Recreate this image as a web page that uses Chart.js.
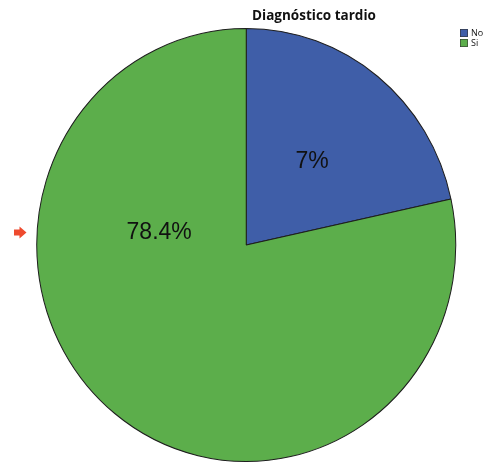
<!DOCTYPE html>
<html>
<head>
<meta charset="utf-8">
<script src="https://cdn.jsdelivr.net/npm/chart.js@4.4.1/dist/chart.umd.min.js"></script>
<style>
  html, body { margin: 0; padding: 0; background: #ffffff; }
  #wrap { width: 492px; height: 463px; }
</style>
</head>
<body>
<div id="wrap"><canvas id="c" width="492" height="463"></canvas></div>
<script>
// Categories and their shares (%)
const categories = ['No', 'Si'];
const shareValues = [21.6, 78.4];
// Text printed inside each slice
const sliceLabels = ['7%', '78.4%'];
const chartTitle = 'Diagnóstico tardio';

const sliceColors = ['#3f5ea8', '#5cae4b'];

// Where each slice label sits: null = middle of the slice,
// otherwise an angle (deg, clockwise from 12 o'clock) and a fraction of the radius
const labelPlacement = [null, { angle: 278.2, frac: 0.42 }];

// The pie is drawn slightly taller than wide
const Y_STRETCH = 217 / 210;

const ellipsePlugin = {
  id: 'ellipse',
  beforeDatasetsDraw(chart) {
    const arc = chart.getDatasetMeta(0).data[0];
    const ctx = chart.ctx;
    ctx.save();
    ctx.translate(arc.x, arc.y);
    ctx.scale(1, Y_STRETCH);
    ctx.translate(-arc.x, -arc.y);
  },
  afterDatasetsDraw(chart) {
    chart.ctx.restore();
  }
};

const decorPlugin = {
  id: 'decor',
  afterDraw(chart) {
    const ctx = chart.ctx;
    const meta = chart.getDatasetMeta(0);

    // slice labels
    ctx.save();
    ctx.fillStyle = '#111111';
    ctx.font = '23px "Liberation Sans", Arial, sans-serif';
    ctx.textAlign = 'center';
    ctx.textBaseline = 'middle';
    meta.data.forEach((arc, i) => {
      let x, y;
      const p = labelPlacement[i];
      if (p) {
        const a = p.angle * Math.PI / 180;
        const r = arc.outerRadius * p.frac;
        x = arc.x + r * Math.sin(a);
        y = arc.y - r * Math.cos(a) * Y_STRETCH;
      } else {
        const tp = arc.tooltipPosition();
        x = tp.x;
        y = arc.y + (tp.y - arc.y) * Y_STRETCH;
      }
      ctx.fillText(sliceLabels[i], x, y + 1);
    });
    ctx.restore();

    // title
    ctx.save();
    ctx.fillStyle = '#111111';
    ctx.font = 'bold 13.5px "Open Sans", sans-serif';
    ctx.textAlign = 'center';
    ctx.textBaseline = 'alphabetic';
    ctx.fillText(chartTitle, 314, 20);
    ctx.restore();

    // legend
    ctx.save();
    ctx.font = '9px "Open Sans", sans-serif';
    ctx.textBaseline = 'middle';
    categories.forEach((name, i) => {
      const y = 29 + i * 10;
      ctx.fillStyle = sliceColors[i];
      ctx.fillRect(460, y, 8, 8);
      ctx.strokeStyle = '#333333';
      ctx.lineWidth = 0.6;
      ctx.strokeRect(460.3, y + 0.3, 7.4, 7.4);
      ctx.fillStyle = '#111111';
      ctx.fillText(name, 471, y + 4);
    });
    ctx.restore();

    // small pointer arrow at the left
    ctx.save();
    ctx.fillStyle = '#ee4a2e';
    ctx.beginPath();
    ctx.moveTo(14, 229.5);
    ctx.lineTo(19.5, 229.5);
    ctx.lineTo(19.5, 226.5);
    ctx.lineTo(26.5, 232.5);
    ctx.lineTo(19.5, 238.5);
    ctx.lineTo(19.5, 235.5);
    ctx.lineTo(14, 235.5);
    ctx.closePath();
    ctx.fill();
    ctx.restore();
  }
};

new Chart(document.getElementById('c'), {
  type: 'pie',
  data: {
    labels: categories,
    datasets: [{
      data: shareValues,
      backgroundColor: sliceColors,
      borderColor: '#1e1e1e',
      borderWidth: 1,
      clip: false
    }]
  },
  options: {
    responsive: false,
    animation: false,
    layout: { padding: { left: 36, right: 35.5, top: 35, bottom: 8 } },
    plugins: {
      legend: { display: false },
      title: { display: false },
      tooltip: { enabled: false }
    }
  },
  plugins: [ellipsePlugin, decorPlugin]
});
</script>
</body>
</html>
